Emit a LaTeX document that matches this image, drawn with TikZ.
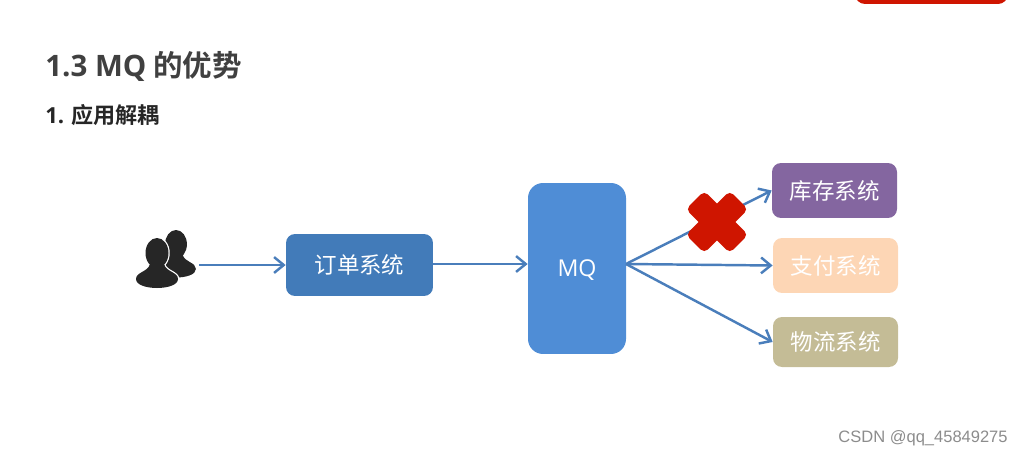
\documentclass[tikz,border=0pt]{standalone}
\usepackage{fontspec}
\usepackage{xcolor}
\setmainfont{Noto Sans CJK SC}[BoldFont=* Bold]
\newfontfamily\markfont{Liberation Sans}
\newfontfamily\latinfont{Open Sans}
\usetikzlibrary{arrows.meta, positioning}
\definecolor{linkblue}{HTML}{4A7EBB}
\definecolor{orderblue}{HTML}{427BB9}
\definecolor{mqblue}{HTML}{4F8DD6}
\definecolor{stockpurple}{HTML}{8466A0}
\definecolor{payorange}{HTML}{FDD6B5}
\definecolor{shipkhaki}{HTML}{C4BC96}
\definecolor{crossred}{HTML}{CF1500}
\tikzset{
    sysbox/.style={rounded corners=0.18cm, inner sep=0pt, text=white, font=\fontsize{12.8}{15}\selectfont},
    link/.style={draw=linkblue, line width=1.4pt, -{Straight Barb[length=5.5pt,width=9pt,line width=1.4pt]}}
}

\begin{document}
\begin{tikzpicture}[x=0.02cm, y=-0.02cm]
\useasboundingbox (0, 0) rectangle (1023, 456);
\clip (0, 0) rectangle (1023, 456);

% Headings
\node[anchor=west, inner sep=0pt, text=black!75, font=\fontsize{16.8}{20}\selectfont\bfseries] (title) at (45, 66) {{\latinfont 1.3 MQ} 的优势};
\node[anchor=west, inner sep=0pt, text=black!85, font=\fontsize{12.6}{15}\selectfont\bfseries] (subtitle) at (45, 115) {{\latinfont 1.} 应用解耦};

% Red bar cut by the top edge
\fill[crossred, rounded corners=0.2cm] (855, -20) rectangle (1008, 4);

% Systems
\node[sysbox, fill=orderblue, minimum width=2.94cm, minimum height=1.24cm] (order) at (359.5, 265) {订单系统};
\node[sysbox, rounded corners=0.3cm, fill=mqblue, minimum width=1.96cm, minimum height=3.42cm, text depth=0pt, font=\fontsize{13.2}{15}\selectfont] (mq) at (577, 268.5) {\latinfont MQ};
\node[sysbox, fill=stockpurple, minimum width=2.5cm, minimum height=1.1cm] (stock) at (834.5, 190.5) {库存系统};
\node[sysbox, fill=payorange, minimum width=2.5cm, minimum height=1.1cm] (pay) at (835.5, 265.5) {支付系统};
\node[sysbox, fill=shipkhaki, minimum width=2.5cm, minimum height=1.0cm] (ship) at (835.5, 342) {物流系统};

% Users icon
\node[minimum width=1.28cm, minimum height=1.2cm, inner sep=0pt] (users) at (167, 265) {};
\foreach \px/\py/\sc in {176/268/0.95, 157/278/1} {
    \begin{scope}[shift={(\px, \py)}, scale=\sc]
        % Head and shoulders, with a white halo
        \fill[black!85, preaction={draw=white, line width=1.4pt}]
            (0, -25) ellipse [x radius=11.5, y radius=15]
            (-21, 1) .. controls (-21, -6) and (-9, -6) .. (-7, -14) -- (7, -14)
            .. controls (9, -6) and (21, -6) .. (21, 1)
            .. controls (21, 13) and (-21, 13) .. (-21, 1);
    \end{scope}
}

% Links
\coordinate (mqout) at (626, 264);
\draw[link] (users.east) -- (order.west);
\draw[link] (order.east |- mqout) -- (mq.west |- mqout);
\draw[link] (mqout) -- (stock.west);
\draw[link] (mqout) -- (pay.west);
\draw[link] (mqout) -- (ship.west);

% Cross over the first link
\begin{scope}[shift={(717, 222)}]
    \foreach \ang in {45, -45} {
        \fill[crossred, rounded corners=0.1cm, rotate=\ang] (-31, -13) rectangle (31, 13);
    }
\end{scope}

% Watermark
\node[anchor=east, inner sep=0pt, text=black!45, font=\fontsize{9.4}{11}\markfont] (mark) at (1008, 438) {CSDN @qq\_45849275};
\end{tikzpicture}
\end{document}
